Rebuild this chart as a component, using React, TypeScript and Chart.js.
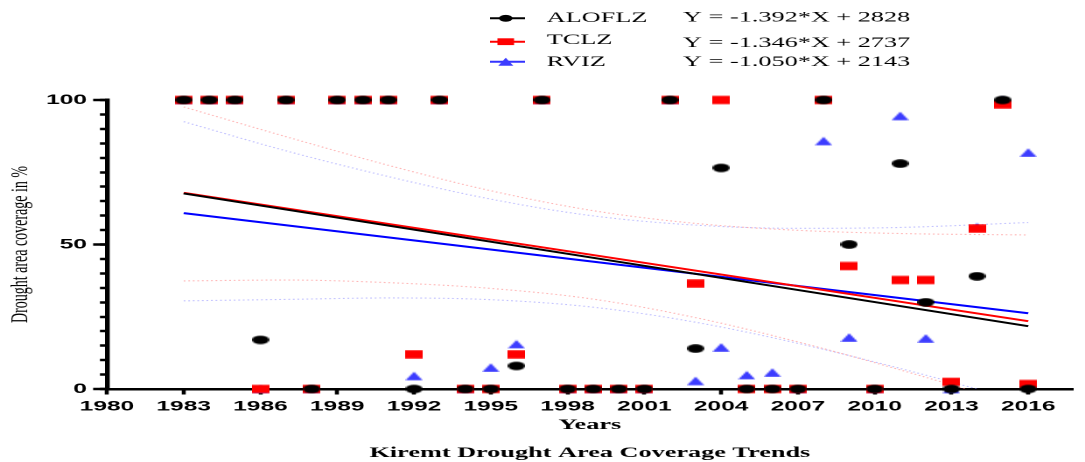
import { useEffect, useRef } from 'react';
import { Chart, registerables } from 'chart.js';

Chart.register(...registerables);

// ---------- data ----------
const years = [
  1983, 1984, 1985, 1986, 1987, 1988, 1989, 1990, 1991, 1992, 1993, 1994,
  1995, 1996, 1997, 1998, 1999, 2000, 2001, 2002, 2003, 2004, 2005, 2006,
  2007, 2008, 2009, 2010, 2011, 2012, 2013, 2014, 2015, 2016,
];
const aloflz = [
  100, 100, 100, 17, 100, 0, 100, 100, 100, 0, 100, 0,
  0, 8, 100, 0, 0, 0, 0, 100, 14, 76.5, 0, 0,
  0, 100, 50, 0, 78, 30, 0, 39, 100, 0,
];
const tclz = [
  100, 100, 100, 0, 100, 0, 100, 100, 100, 12, 100, 0,
  0, 12, 100, 0, 0, 0, 0, 100, 36.5, 100, 0, 0,
  0, 100, 42.5, 0, 37.7, 37.7, 2.5, 55.5, 98.5, 1.7,
];
const rviz = [
  100, 100, 100, 0, 100, 0, 100, 100, 100, 4.5, 100, 0,
  7.4, 15.5, 100, 0, 0, 0, 0, 100, 2.8, 14.4, 4.8, 5.7,
  0, 85.8, 17.8, 0, 94.5, 17.5, 0, 56, 100, 81.8,
];
const seriesNames = ['ALOFLZ', 'TCLZ', 'RVIZ'];
const equations = ['Y = -1.392*X + 2828', 'Y = -1.346*X + 2737', 'Y = -1.050*X + 2143'];
const slopes = [-1.392, -1.346, -1.05];
const intercepts = [2828, 2737, 2143];
const fitRange = [1983, 2016];

// 95% confidence band curves
const bandYears = [1983, 1987, 1991, 1995, 1999, 2003, 2007, 2011, 2016];
const tclzUpper = [97.6, 87.3, 77.4, 68.6, 61.7, 57.3, 54.9, 53.8, 53.3];
const tclzLower = [37.4, 37.7, 36.8, 34.8, 31.1, 24.7, 16.3, 6.6, -6.5];
const rvizUpper = [92.5, 82.4, 73.5, 65.7, 59.9, 56.7, 55.6, 55.9, 57.6];
const rvizLower = [30.5, 31.0, 31.5, 30.9, 28.3, 23.1, 15.8, 7.1, -4.8];

const xTicks = [1980, 1983, 1986, 1989, 1992, 1995, 1998, 2001, 2004, 2007, 2010, 2013, 2016];
const yTicks = [0, 5, 10, 15, 20, 25, 30, 35, 40, 45, 50, 55, 60, 65, 70, 75, 80, 85, 90, 95, 100];
const yLabels = [0, 50, 100];

const chartTitle = 'Kiremt Drought Area Coverage Trends';
const xTitle = 'Years';
const yTitle = 'Drought area coverage in %';

// ---------- styling ----------
const SERIF = "'Liberation Serif', 'Times New Roman', serif";
const SANS = "'Liberation Sans', Arial, sans-serif";
const BLACK = '#000000';
const RED = '#ff0000';
const BLUE_MARK = '#3c3cff';
const BLUE_LINE = '#0000ff';

function makeMarker(kind: string, w: number, h: number, cw: number, ch: number, color: string) {
  const c = document.createElement('canvas');
  c.width = cw;
  c.height = ch;
  const ctx = c.getContext('2d')!;
  ctx.fillStyle = color;
  const cx = cw / 2;
  const cy = ch / 2;
  ctx.beginPath();
  if (kind === 'circle') {
    ctx.ellipse(cx, cy, w / 2, h / 2, 0, 0, Math.PI * 2);
  } else if (kind === 'rect') {
    ctx.rect(cx - w / 2, cy - h / 2, w, h);
  } else {
    ctx.moveTo(cx, cy - h / 2);
    ctx.lineTo(cx + w / 2, cy + h / 2);
    ctx.lineTo(cx - w / 2, cy + h / 2);
    ctx.closePath();
  }
  ctx.fill();
  return c;
}

function drawLegendMarker(ctx: CanvasRenderingContext2D, kind: string, x: number, y: number, w: number, h: number, color: string) {
  ctx.fillStyle = color;
  ctx.beginPath();
  if (kind === 'circle') {
    ctx.ellipse(x, y, w / 2, h / 2, 0, 0, Math.PI * 2);
  } else if (kind === 'rect') {
    ctx.rect(x - w / 2, y - h / 2, w, h);
  } else {
    ctx.moveTo(x, y - h / 2);
    ctx.lineTo(x + w / 2, y + h / 2);
    ctx.lineTo(x - w / 2, y + h / 2);
    ctx.closePath();
  }
  ctx.fill();
}

const legendPlugin = {
  id: 'customLegend',
  afterDraw(chart: any) {
    const ctx: CanvasRenderingContext2D = chart.ctx;
    const area = chart.chartArea;
    const lineColors = [BLACK, RED, '#3333ff'];
    const markColors = [BLACK, RED, BLUE_MARK];
    const kinds = ['circle', 'rect', 'tri'];
    const sizes = [[7.8, 6.8], [9.5, 6.8], [8.6, 8.0]];
    const lineY = [18.3, 41.7, 61.7];
    const textY = [18, 40, 62];
    const eqY = [17.5, 43, 62];
    ctx.save();
    for (let i = 0; i < 3; i++) {
      ctx.strokeStyle = lineColors[i];
      ctx.lineWidth = 2;
      ctx.beginPath();
      ctx.moveTo(280, lineY[i]);
      ctx.lineTo(300, lineY[i]);
      ctx.stroke();
      drawLegendMarker(ctx, kinds[i], 289, lineY[i], sizes[i][0], sizes[i][1], markColors[i]);
      ctx.fillStyle = '#000';
      ctx.font = `15px ${SERIF}`;
      ctx.textBaseline = 'middle';
      ctx.textAlign = 'left';
      ctx.fillText(seriesNames[i], 312.4, textY[i]);
      ctx.fillText(equations[i], 390.3, eqY[i]);
    }
    // chart title, centred under the plot area
    ctx.font = `bold 15px ${SERIF}`;
    ctx.textAlign = 'center';
    ctx.textBaseline = 'middle';
    ctx.fillStyle = '#000';
    ctx.fillText(chartTitle, (area.left + area.right) / 2, 453);
    // longer major ticks on the y axis
    const yScale = chart.scales.y;
    const axisX = area.left;
    ctx.strokeStyle = '#000';
    ctx.lineWidth = 2.5;
    for (const v of yLabels) {
      const py = yScale.getPixelForValue(v);
      ctx.beginPath();
      ctx.moveTo(axisX - 7.9, py);
      ctx.lineTo(axisX, py);
      ctx.stroke();
    }
    ctx.restore();
  },
};

export default function App() {
  const ref = useRef<HTMLCanvasElement>(null);

  useEffect(() => {
    const canvas = ref.current;
    if (!canvas) return;

    const circle = makeMarker('circle', 9.9, 8.3, 10, 9, BLACK);
    const square = makeMarker('rect', 10, 8.3, 10, 9, RED);
    const tri = makeMarker('tri', 9.7, 8.3, 10, 9, BLUE_MARK);

    const pts = (vals: number[]) => years.map((x, i) => ({ x, y: vals[i] }));
    const fit = (k: number) => fitRange.map((x) => ({ x, y: intercepts[k] + slopes[k] * x }));
    const band = (vals: number[]) => bandYears.map((x, i) => ({ x, y: vals[i] }));

    const bandStyle = (color: string, order: number) => ({
      type: 'line' as const,
      borderColor: color,
      borderWidth: 1.1,
      borderDash: [1, 1.6],
      pointRadius: 0,
      fill: false,
      cubicInterpolationMode: 'monotone' as const,
      clip: 0,
      order,
    });

    const chart = new Chart(canvas, {
      type: 'scatter',
      data: {
        datasets: [
          { label: seriesNames[0], data: pts(aloflz), pointStyle: circle, pointRadius: 6, clip: false, order: 1 } as any,
          { label: seriesNames[1], data: pts(tclz), pointStyle: square, pointRadius: 6, clip: false, order: 2 } as any,
          { label: seriesNames[2], data: pts(rviz), pointStyle: tri, pointRadius: 6, clip: false, order: 3 } as any,
          { type: 'line', label: 'fit ALOFLZ', data: fit(0), borderColor: BLACK, borderWidth: 2, pointRadius: 0, order: 4 },
          { type: 'line', label: 'fit TCLZ', data: fit(1), borderColor: RED, borderWidth: 2, pointRadius: 0, order: 5 },
          { type: 'line', label: 'fit RVIZ', data: fit(2), borderColor: BLUE_LINE, borderWidth: 2, pointRadius: 0, order: 6 },
          { label: 'TCLZ upper', data: band(tclzUpper), ...bandStyle('rgba(255,120,120,0.55)', 7) },
          { label: 'TCLZ lower', data: band(tclzLower), ...bandStyle('rgba(255,120,120,0.55)', 8) },
          { label: 'RVIZ upper', data: band(rvizUpper), ...bandStyle('rgba(130,130,255,0.5)', 9) },
          { label: 'RVIZ lower', data: band(rvizLower), ...bandStyle('rgba(130,130,255,0.5)', 10) },
        ] as any,
      },
      options: {
        responsive: false,
        devicePixelRatio: 2,
        animation: false,
        events: [],
        layout: { padding: { left: 0, right: 0, top: 100, bottom: 0 } },
        plugins: {
          legend: { display: false },
          tooltip: { enabled: false },
          title: { display: false },
        },
        scales: {
          x: {
            type: 'linear',
            min: 1980,
            max: 2017.74,
            afterBuildTicks: (s: any) => {
              s.ticks = xTicks.map((v) => ({ value: v }));
            },
            afterFit: (s: any) => {
              s.height = 73;
            },
            ticks: {
              autoSkip: false,
              maxRotation: 0,
              padding: 3.8,
              color: '#000',
              font: { family: SANS, size: 14, weight: 'bold' },
              callback: (v: any) => String(v),
            },
            grid: { drawOnChartArea: false, drawTicks: true, tickLength: 5.5, tickWidth: 2.3, tickColor: '#000' },
            border: { display: true, color: '#000', width: 2.5 },
            title: {
              display: true,
              text: xTitle,
              color: '#000',
              font: { family: SERIF, size: 15, weight: 'bold', lineHeight: 1.2 },
              padding: { top: 0, bottom: 28 },
            },
          },
          y: {
            type: 'linear',
            min: 0,
            max: 100,
            afterBuildTicks: (s: any) => {
              s.ticks = yTicks.map((v) => ({ value: v }));
            },
            afterFit: (s: any) => {
              s.width = 61.1;
            },
            ticks: {
              autoSkip: false,
              padding: 7.4,
              color: '#000',
              font: { family: SANS, size: 14, weight: 'bold' },
              callback: (v: any) => (yLabels.includes(Number(v)) ? String(v) : ''),
            },
            grid: { drawOnChartArea: false, drawTicks: true, tickLength: 4, tickWidth: 2.5, tickColor: '#000' },
            border: { display: true, color: '#000', width: 2.7 },
            title: {
              display: true,
              text: yTitle,
              color: '#000',
              font: { family: SERIF, size: 14, lineHeight: 1.2 },
              padding: { top: 3.6, bottom: 0 },
            },
          },
        },
      } as any,
      plugins: [legendPlugin],
    });

    return () => {
      chart.destroy();
    };
  }, []);

  return (
    <div style={{ position: 'absolute', left: 0, top: 0, width: 1085, height: 462, background: '#fff' }}>
      <canvas ref={ref} width={620} height={462} style={{ display: 'block', width: '1085px', height: '462px' }} />
    </div>
  );
}
